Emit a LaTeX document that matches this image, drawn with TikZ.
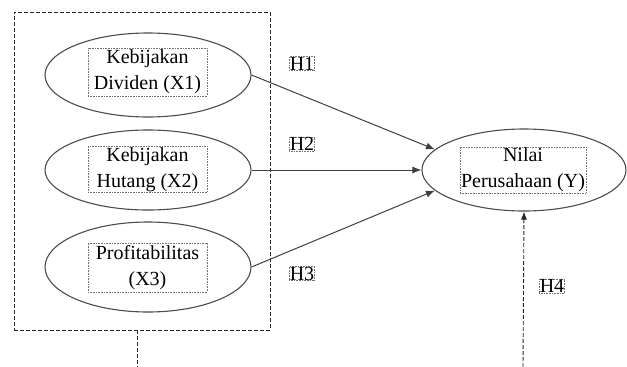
\documentclass[tikz,border=0pt]{standalone}
\usepackage{fontspec}
\setmainfont{Liberation Serif}
\usetikzlibrary{arrows.meta,positioning,shapes,fit,calc}

\tikzset{
  var/.style={draw=black!70, line width=1.1pt, ellipse, minimum width=206pt, minimum height=84pt},
  txtbox/.style={draw=black!55, densely dotted, line width=0.6pt, align=center, inner sep=1pt,
    font=\fontsize{20}{26}\selectfont},
  hyp/.style={draw=black!55, densely dotted, line width=0.6pt, inner sep=0.5pt,
    font=\fontsize{20}{22}\selectfont},
  path/.style={draw=black!75, line width=1pt, -{Latex[length=9pt,width=7pt]}},
  grpline/.style={draw=black!85, line width=0.9pt, dash pattern=on 4pt off 2pt}
}

\begin{document}
\begin{tikzpicture}[x=1pt,y=-1pt]
  \useasboundingbox (0,0) rectangle (627,367);
  % independent variables
  \node[var] (x1) at (148,75) {};
  \node[var, minimum height=80pt] (x2) at (148,170) {};
  \node[var, minimum height=90pt] (x3) at (148,267) {};
  \node[txtbox, minimum width=119pt, minimum height=48pt] (t1) at (147.5,72) {Kebijakan\\Dividen (X1)};
  \node[txtbox, minimum width=119pt, minimum height=45pt] (t2) at (147.5,169.5) {Kebijakan\\Hutang (X2)};
  \node[txtbox, minimum width=119pt, minimum height=49pt] (t3) at (147.5,267.5) {Profitabilitas\\(X3)};
  % dependent variable
  \node[var, minimum width=204pt, minimum height=82pt] (y) at (524,170) {};
  \node[txtbox, minimum width=120pt, minimum height=44pt] (ty) at (523,170) {Nilai\\Perusahaan (Y)};
  % group box
  \node[grpline, draw, minimum width=256pt, minimum height=318pt, inner sep=0pt] (grp) at (142,171) {};
  \coordinate (grpend) at (137,367);
  \coordinate (h4end) at (523,367);
  % paths
  \draw[path] (x1.east) -- (y.167);
  \draw[path] (x2.east) -- (y.west);
  \draw[path] (x3.east) -- (y.193);
  \draw[grpline] (grpend |- grp.south) -- (grpend);
  \draw[grpline, -{Latex[length=8pt,width=6pt]}] (h4end) -- (y.south);
  % hypotheses
  \node[hyp] (h1) at (302,63.5) {H1};
  \node[hyp] (h2) at (302,144) {H2};
  \node[hyp] (h3) at (302,273.5) {H3};
  \node[hyp] (h4) at (552,286) {H4};
\end{tikzpicture}
\end{document}
